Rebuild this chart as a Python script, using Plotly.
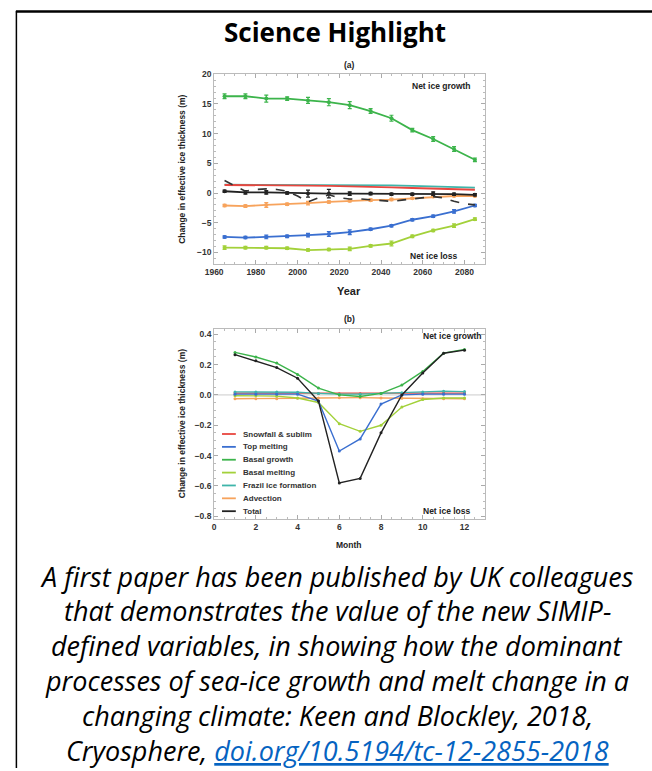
import plotly.graph_objects as go

# ---------------- data ----------------
years = [1965, 1975, 1985, 1995, 2005, 2015, 2025, 2035, 2045, 2055, 2065, 2075, 2085]

a_basal_growth = [16.3, 16.3, 15.9, 15.9, 15.6, 15.3, 14.8, 13.8, 12.6, 10.6, 9.1, 7.4, 5.6]
a_basal_growth_err = [0.4, 0.4, 0.6, 0.3, 0.5, 0.6, 0.6, 0.4, 0.5, 0.3, 0.4, 0.4, 0.3]
a_top_melting = [-7.4, -7.5, -7.4, -7.3, -7.1, -6.9, -6.6, -6.1, -5.5, -4.5, -3.9, -3.1, -2.1]
a_top_melting_err = [0.2, 0.2, 0.3, 0.2, 0.3, 0.4, 0.4, 0.2, 0.2, 0.2, 0.2, 0.3, 0.2]
a_basal_melting = [-9.2, -9.2, -9.2, -9.3, -9.6, -9.5, -9.4, -8.9, -8.5, -7.3, -6.3, -5.5, -4.4]
a_basal_melting_err = [0.3, 0.2, 0.2, 0.2, 0.2, 0.2, 0.3, 0.2, 0.4, 0.2, 0.2, 0.3, 0.2]
a_advection = [-2.1, -2.2, -2.0, -1.9, -1.7, -1.5, -1.3, -1.2, -1.1, -0.9, -0.6, -0.5, -0.5]
a_advection_err = [0.2, 0.2, 0.4, 0.2, 0.3, 0.2, 0.2, 0.2, 0.2, 0.1, 0.1, 0.1, 0.1]
a_frazil = [1.4, 1.4, 1.4, 1.4, 1.4, 1.4, 1.35, 1.3, 1.3, 1.2, 1.1, 1.0, 0.9]
a_snowfall = [1.35, 1.35, 1.3, 1.3, 1.25, 1.2, 1.15, 1.05, 0.95, 0.85, 0.75, 0.65, 0.55]
a_total = [0.3, 0.1, 0.1, 0.0, -0.1, -0.1, -0.1, -0.1, -0.2, -0.2, -0.1, -0.2, -0.3]
a_total_err = [0.2, 0.3, 0.3, 0.2, 0.6, 0.7, 0.3, 0.2, 0.2, 0.2, 0.3, 0.2, 0.2]

dashed_years = [1965, 1970, 1975, 1980, 1985, 1990, 1995, 2000, 2005, 2010, 2015,
                2020, 2025, 2030, 2035, 2040, 2045, 2050, 2055, 2060, 2065, 2070,
                2075, 2080, 2085]
dashed_total = [2.1, 1.2, 0.3, 0.6, 0.7, 0.6, 0.3, -0.5, -1.5, -0.8, -0.3,
                -0.8, -1.0, -1.0, -1.1, -1.3, -1.4, -1.2, -1.0, -0.8, -0.6, -0.8,
                -1.4, -1.8, -2.0]

months = [1, 2, 3, 4, 5, 6, 7, 8, 9, 10, 11, 12]
b_snowfall = [0.012, 0.012, 0.012, 0.011, 0.01, 0.008, 0.008, 0.009, 0.01, 0.011, 0.012, 0.012]
b_top_melting = [0.005, 0.005, 0.005, 0.005, -0.04, -0.37, -0.29, -0.06, 0.0, 0.005, 0.005, 0.005]
b_basal_growth = [0.28, 0.25, 0.21, 0.135, 0.045, 0.0, -0.01, 0.01, 0.065, 0.155, 0.275, 0.30]
b_basal_melting = [-0.005, -0.005, -0.008, -0.02, -0.05, -0.19, -0.24, -0.2, -0.08, -0.03, -0.02, -0.02]
b_frazil = [0.02, 0.02, 0.02, 0.018, 0.01, 0.005, 0.005, 0.01, 0.015, 0.02, 0.025, 0.022]
b_advection = [-0.025, -0.025, -0.025, -0.022, -0.02, -0.018, -0.018, -0.02, -0.022, -0.025, -0.025, -0.025]
b_total = [0.265, 0.225, 0.18, 0.11, -0.04, -0.58, -0.55, -0.25, 0.0, 0.145, 0.275, 0.295]

series_names = ["Snowfall & sublim", "Top melting", "Basal growth", "Basal melting",
                "Frazil ice formation", "Advection", "Total"]
series_colors = ["#e8463f", "#3a6fd0", "#3cb44b", "#a3d13a", "#3fb5aa", "#f7a35c", "#222222"]

title_text = "Science Highlight"
caption_lines = [
    "A first paper has been published by UK colleagues",
    "that demonstrates the value of the new SIMIP-",
    "defined variables, in showing how the dominant",
    "processes of sea-ice growth and melt change in a",
    "changing climate: Keen and Blockley, 2018,",
    "Cryosphere, <span style='color:#0563c1'><u>doi.org/10.5194/tc-12-2855-2018</u></span>",
]

# ---------------- figure ----------------
W, H = 652, 771
fig = go.Figure()


def px(x):
    return x / W


def py(y):
    return 1 - y / H


col = dict(zip(series_names, series_colors))

# panel (a): decadal budget terms
a_series = [
    ("Frazil ice formation", a_frazil, None),
    ("Snowfall & sublim", a_snowfall, None),
    ("Advection", a_advection, a_advection_err),
    ("Top melting", a_top_melting, a_top_melting_err),
    ("Basal melting", a_basal_melting, a_basal_melting_err),
    ("Basal growth", a_basal_growth, a_basal_growth_err),
    ("Total", a_total, a_total_err),
]
for name, vals, err in a_series:
    c = col[name]
    fig.add_trace(go.Scatter(
        x=years, y=vals, mode="lines+markers" if err else "lines",
        line=dict(color=c, width=1.8),
        marker=dict(color=c, size=4),
        error_y=dict(type="data", array=err, color=c, thickness=1.2, width=2) if err else None,
        xaxis="x", yaxis="y", showlegend=False, name=name,
    ))
fig.add_trace(go.Scatter(
    x=dashed_years, y=dashed_total, mode="lines",
    line=dict(color="#333333", width=1.6, dash="dash"),
    xaxis="x", yaxis="y", showlegend=False, name="Total (alt)",
))

# panel (b): seasonal cycle
b_series = [
    ("Snowfall & sublim", b_snowfall),
    ("Frazil ice formation", b_frazil),
    ("Advection", b_advection),
    ("Basal melting", b_basal_melting),
    ("Top melting", b_top_melting),
    ("Basal growth", b_basal_growth),
    ("Total", b_total),
]
for name, vals in b_series:
    c = col[name]
    fig.add_trace(go.Scatter(
        x=months, y=vals, mode="lines+markers",
        line=dict(color=c, width=1.4),
        marker=dict(color=c, size=3),
        xaxis="x2", yaxis="y2", showlegend=False, name=name,
    ))

# ---------------- axes ----------------
xdom = [px(208), px(483)]
tickfont = dict(family="Liberation Sans", size=8.5, color="#333333", weight="bold")
axis_common = dict(
    showgrid=False, zeroline=False, showline=True, linecolor="#bbbbbb", linewidth=1,
    mirror="allticks", ticks="inside", ticklen=4, tickcolor="#aaaaaa", tickwidth=1,
    tickfont=tickfont,
)
fig.update_layout(
    xaxis=dict(domain=xdom, range=[1960, 2090], tick0=1960, dtick=20, anchor="y",
               minor=dict(dtick=5, ticks="inside", ticklen=2, tickcolor="#bbbbbb"),
               **axis_common),
    yaxis=dict(domain=[py(262), py(70)], range=[-12, 20], tick0=0, dtick=5, anchor="x",
               minor=dict(dtick=1, ticks="inside", ticklen=2, tickcolor="#bbbbbb"),
               **axis_common),
    xaxis2=dict(domain=xdom, range=[0, 13], tick0=0, dtick=2, anchor="y2",
                minor=dict(dtick=0.5, ticks="inside", ticklen=2, tickcolor="#bbbbbb"),
                **axis_common),
    yaxis2=dict(domain=[py(519), py(327.3)], range=[-0.815, 0.435], tick0=0, dtick=0.2,
                tickformat=".1f", anchor="x2",
                minor=dict(dtick=0.05, ticks="inside", ticklen=2, tickcolor="#bbbbbb"),
                **axis_common),
)
# zero reference line in the seasonal panel
fig.add_shape(type="line", xref="x2 domain", yref="y2", x0=0, x1=1, y0=0, y1=0,
              line=dict(color="#cccccc", width=1), layer="below")

# ---------------- text ----------------
small = dict(family="Liberation Sans", size=8.5, color="#222222", weight="bold")


def label(text, x, y, font, xanchor="center", **kw):
    fig.add_annotation(text=text, x=px(x), y=py(y), xref="paper", yref="paper",
                       xanchor=xanchor, yanchor="middle",
                       showarrow=False, font=font, **kw)


label(title_text, 331, 27, dict(family="Open Sans", size=26, color="#000000", weight="bold"))
label("(a)", 345, 61, small)
label("(b)", 345, 317, small)
label("Year", 345, 289, dict(family="Liberation Sans", size=11, color="#222222", weight="bold"))
label("Month", 345, 546, small)
ytitle = "Change in effective ice thickness (m)"
label(ytitle, 176, 166, small, textangle=-90)
label(ytitle, 175, 423, small, textangle=-90)
label("Net ice growth", 470, 82, small, xanchor="right")
label("Net ice loss", 457, 254, small, xanchor="right")
label("Net ice growth", 482, 334, small, xanchor="right")
label("Net ice loss", 471, 511, small, xanchor="right")

# legend keys for the seasonal panel
for i, (name, c) in enumerate(zip(series_names, series_colors)):
    yy = 433.5 + i * 13
    fig.add_shape(type="line", xref="paper", yref="paper",
                  x0=px(216), x1=px(230), y0=py(yy), y1=py(yy),
                  line=dict(color=c, width=1.8))
    label(name, 235, yy, dict(family="Liberation Sans", size=8, color="#333333", weight="bold"),
          xanchor="left")

caption_font = dict(family="Open Sans", size=27, color="#000000", style="italic")
for i, line in enumerate(caption_lines):
    label(line, 333, 577 + i * 35.2, caption_font)

# page frame
fig.add_shape(type="line", xref="paper", yref="paper", x0=px(7), x1=1, y0=py(6.5), y1=py(6.5),
              line=dict(color="#000000", width=2.5))
fig.add_shape(type="line", xref="paper", yref="paper", x0=px(7.5), x1=px(7.5), y0=py(6), y1=0,
              line=dict(color="#000000", width=1.5))

fig.update_layout(
    width=W, height=H, margin=dict(l=0, r=0, t=0, b=0),
    paper_bgcolor="white", plot_bgcolor="white", showlegend=False,
)
# keep the figure flush with the page corner
fig.write_html("out.html", post_script="document.body.style.margin='0';")
